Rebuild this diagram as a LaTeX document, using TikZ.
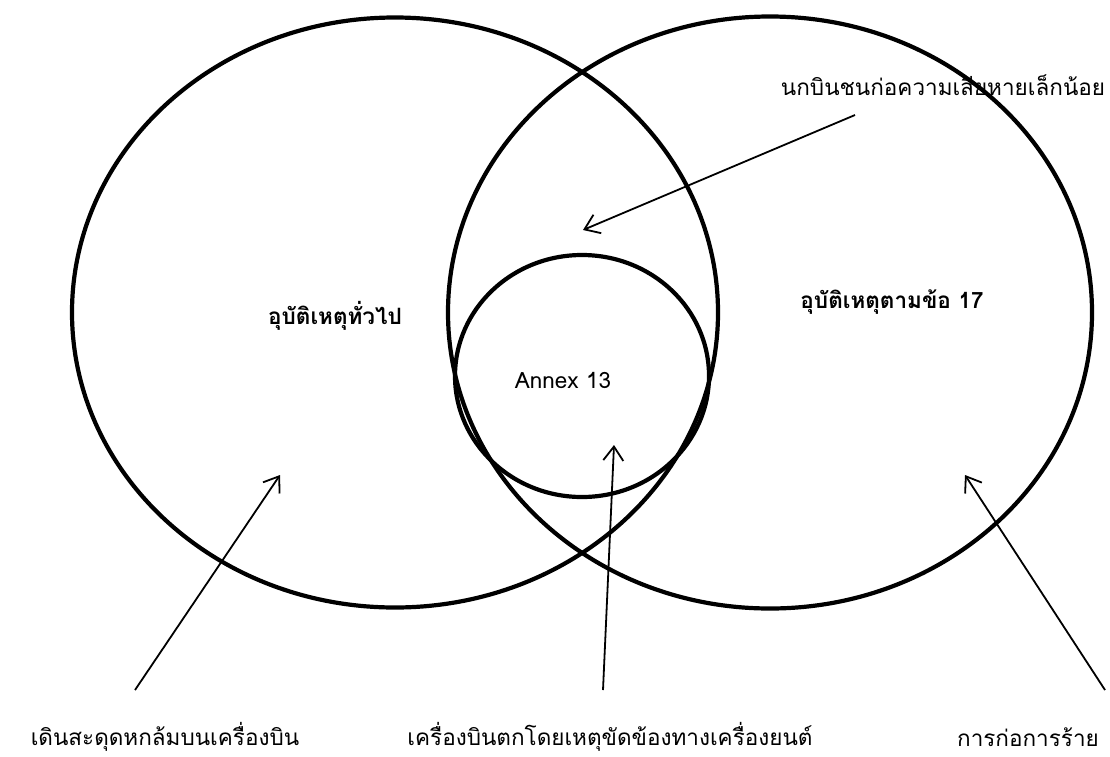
\documentclass[tikz,border=0pt]{standalone}
\usepackage{fontspec}
\usepackage{tikz}
\usetikzlibrary{positioning,arrows.meta}
\setmainfont[Script=Thai]{Loma}

\tikzset{
  ring/.style={line width=4.2pt},
  lbl/.style={inner sep=0pt, font=\fontsize{22.5}{26}\selectfont},
  title/.style={inner sep=0pt, font=\fontsize{22.5}{26}\selectfont\bfseries},
  pointer/.style={-{Straight Barb[length=14pt,width=20pt]}, line width=1.8pt}
}

\begin{document}
\begin{tikzpicture}[x=1pt,y=-1pt]
  \useasboundingbox (0,0) rectangle (1110,756);

  % the three sets
  \draw[ring] (395,312.5) ellipse [x radius=323, y radius=295];
  \draw[ring] (770,312.5) ellipse [x radius=322, y radius=296];
  \draw[ring] (582,376) ellipse [x radius=127, y radius=121];

  % set names
  \node[title] (general) at (335,316) {อุบัติเหตุทั่วไป};
  \node[title] (art17) at (892,302) {อุบัติเหตุตามข้อ 17};
  \node[lbl] (annex) at (563,380) {Annex 13};

  % examples
  \node[lbl] (bird) at (943,85) {นกบินชนก่อความเสียหายเล็กน้อย};
  \node[lbl] (trip) at (165,737) {เดินสะดุดหกล้มบนเครื่องบิน};
  \node[lbl] (engine) at (610,737) {เครื่องบินตกโดยเหตุขัดข้องทางเครื่องยนต์};
  \node[lbl] (terror) at (1028,737) {การก่อการร้าย};

  \coordinate (birdtail) at (855,115);
  \coordinate (birdtip) at (583,230);
  \coordinate (triptail) at (135,690);
  \coordinate (triptip) at (280,475);
  \coordinate (enginetail) at (603,690);
  \coordinate (enginetip) at (614,445);
  \coordinate (terrortail) at (1105,690);
  \coordinate (terrortip) at (965,475);

  \draw[pointer] (birdtail) -- (birdtip);
  \draw[pointer] (triptail) -- (triptip);
  \draw[pointer] (enginetail) -- (enginetip);
  \draw[pointer] (terrortail) -- (terrortip);
\end{tikzpicture}
\end{document}
